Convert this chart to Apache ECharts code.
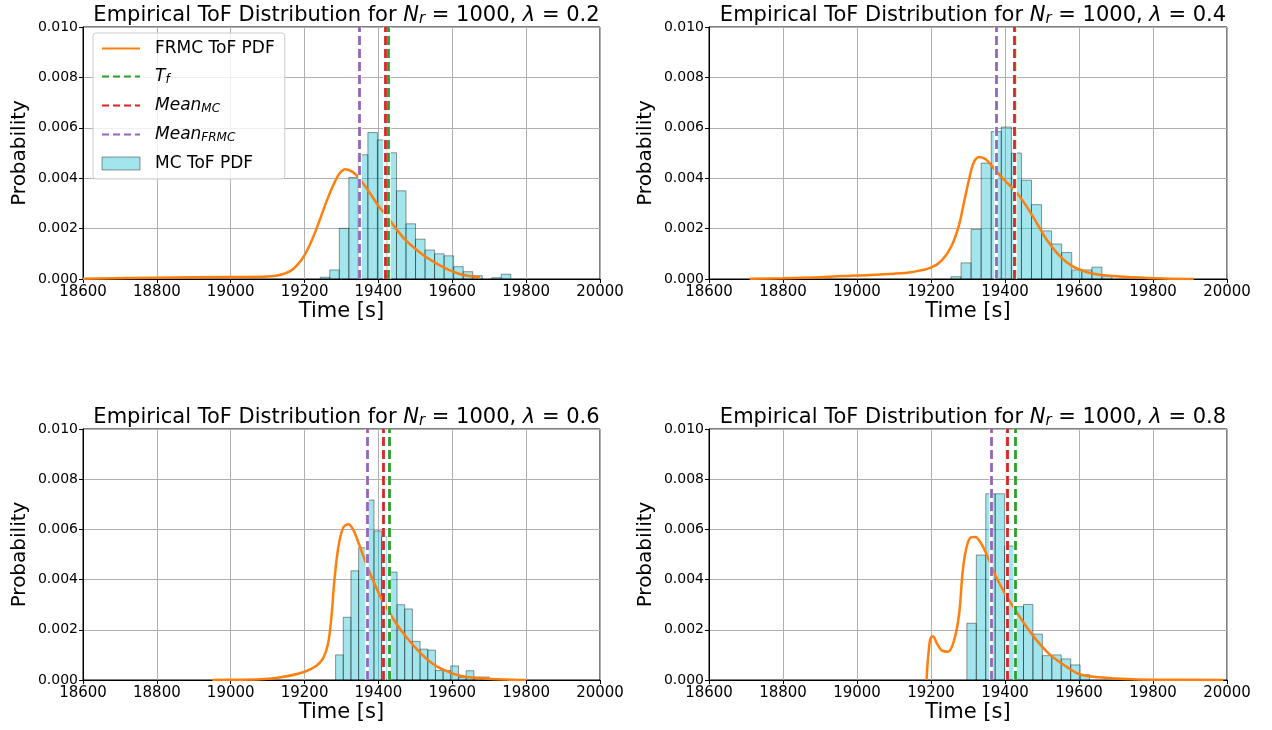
<!DOCTYPE html>
<html>
<head>
<meta charset="utf-8">
<script src="https://cdn.jsdelivr.net/npm/echarts@6/dist/echarts.min.js"></script>
<style>
  html, body { margin: 0; padding: 0; background: #fff; }
  #main { width: 1272px; height: 730px; }
</style>
</head>
<body>
<div id="main"></div>
<script>
// ---------------- data ----------------
var lambdas = ['0.2', '0.4', '0.6', '0.8'];
var xTicks = [18600, 18800, 19000, 19200, 19400, 19600, 19800, 20000];
var yTicks = [0, 0.002, 0.004, 0.006, 0.008, 0.010];

// histogram: first bin edge, bin width, bin heights
var binStart = [19242.5, 19254, 19284, 19297];
var binWidth = [25.8, 27.2, 20.8, 25.5];
var hist1 = [0.00007, 0.00036, 0.00201, 0.00403, 0.00493, 0.00581, 0.00552, 0.00501, 0.0035, 0.00219,
    0.00158, 0.00115, 0.00100, 0.00092, 0.00049, 0.00029, 0.00013, 0, 0.00005, 0.00019];
var hist2 = [0.00009, 0.00064, 0.00197, 0.0046, 0.00585, 0.00603, 0.005, 0.00392, 0.00295, 0.00191,
    0.00139, 0.00105, 0.00036, 0.00036, 0.00047, 0.00013];
var hist3 = [0.001, 0.0025, 0.00435, 0.00527, 0.00717, 0.00594, 0.0057, 0.0043, 0.003, 0.00283,
    0.00154, 0.00123, 0.00119, 0.00038, 0.00038, 0.00056, 0.0001, 0.00037, 0.00012, 0.00012];
var hist4 = [0.00226, 0.00498, 0.00742, 0.00742, 0.00534, 0.00292, 0.00301, 0.00183, 0.00097, 0.001,
    0.00084, 0.0006, 0.00021];

// FRMC pdf curves [time, prob]
var curve1 = [[18600, 0.00001], [18800, 0.00005], [19000, 0.00008], [19100, 0.0001], [19130, 0.00015],
    [19160, 0.0003], [19180, 0.00055], [19200, 0.00095], [19220, 0.00155], [19240, 0.0023], [19260, 0.0031],
    [19280, 0.0038], [19295, 0.0042], [19310, 0.00436], [19330, 0.00425], [19350, 0.00396], [19375, 0.00345],
    [19400, 0.0029], [19425, 0.00245], [19450, 0.00195], [19475, 0.00152], [19500, 0.0012], [19530, 0.00086],
    [19565, 0.00055], [19600, 0.0003], [19630, 0.00016], [19675, 0.00007]];
var curve2 = [[18710, 0.00001], [18800, 0.00003], [18900, 0.00007], [19000, 0.00014], [19100, 0.00021],
    [19150, 0.00028], [19200, 0.00045], [19230, 0.00075], [19255, 0.0013], [19275, 0.0021], [19290, 0.0031],
    [19302, 0.0039], [19315, 0.0046], [19330, 0.00484], [19348, 0.00475], [19375, 0.0043], [19400, 0.0039],
    [19430, 0.00345], [19456, 0.00293], [19484, 0.00227], [19511, 0.0016], [19547, 0.00093], [19583, 0.0005],
    [19620, 0.00028], [19660, 0.00016], [19745, 0.00007], [19830, 0.00002], [19910, 0]];
var curve3 = [[18950, 0], [19000, 0.00001], [19080, 0.00003], [19140, 0.00012], [19200, 0.00033],
    [19232, 0.00057], [19250, 0.00086], [19263, 0.0014], [19272, 0.0024], [19281, 0.004], [19291, 0.00525],
    [19304, 0.00605], [19318, 0.00621], [19331, 0.00601], [19349, 0.00535], [19367, 0.00462], [19386, 0.00395],
    [19404, 0.00336], [19422, 0.00289], [19449, 0.00223], [19476, 0.0017], [19512, 0.0011], [19548, 0.00064],
    [19585, 0.00035], [19621, 0.00017], [19675, 0.00007], [19766, 0.00001], [19800, 0]];
var curve4 = [[19188, 0], [19190, 0.0005], [19193, 0.00103], [19198, 0.00163], [19205, 0.00174],
    [19217, 0.00143], [19230, 0.00117], [19246, 0.00113], [19262, 0.00156], [19276, 0.00263], [19285, 0.00423],
    [19294, 0.00515], [19307, 0.00568], [19319, 0.0057], [19334, 0.00548], [19352, 0.00495], [19370, 0.00429],
    [19388, 0.00376], [19406, 0.00329], [19429, 0.00276], [19456, 0.00216], [19483, 0.00163], [19519, 0.00104],
    [19555, 0.00064], [19600, 0.00024], [19654, 0.00011], [19744, 0.00003], [19850, 0.00001], [19990, 0]];

var tf = [19427, 19427, 19428, 19427];
var meanMC = [19418, 19426, 19414, 19406];
var meanFRMC = [19349, 19376, 19369, 19362];

var hists = [hist1, hist2, hist3, hist4];
var curves = [curve1, curve2, curve3, curve4];

// ---------------- chart ----------------
var FONT = 'DejaVu Sans';
var C_ORANGE = '#ff7f0e', C_GREEN = '#2ca02c', C_RED = '#d62728', C_PURPLE = '#9467bd';
var C_FILL = 'rgba(23,190,207,0.4)', C_EDGE = 'rgba(0,0,0,0.4)';

var gridPos = [
    {left: 83, top: 27, width: 517, height: 252},
    {left: 709, top: 27, width: 518, height: 252},
    {left: 83, top: 429, width: 517, height: 251},
    {left: 709, top: 429, width: 518, height: 251}
];

var nameMap = {
    'FRMC ToF PDF': 'FRMC ToF PDF',
    'T_f': '{it|T}{sub|f}',
    'Mean_MC': '{it|Mean}{sub|MC}',
    'Mean_FRMC': '{it|Mean}{sub|FRMC}',
    'MC ToF PDF': 'MC ToF PDF'
};

var renderBar = function (params, api) {
    var p0 = api.coord([api.value(0), api.value(2)]);
    var p1 = api.coord([api.value(1), 0]);
    return {
        type: 'rect',
        shape: {x: p0[0], y: p0[1], width: p1[0] - p0[0], height: p1[1] - p0[1]},
        style: {fill: C_FILL, stroke: C_EDGE, lineWidth: 1}
    };
};

var vline = function (name, color, value, idx) {
    return {
        name: name,
        type: 'line',
        xAxisIndex: idx,
        yAxisIndex: idx,
        data: [],
        symbol: 'none',
        color: color,
        lineStyle: {type: [7, 4], width: 2.5, color: color},
        z: 3,
        markLine: {
            silent: true,
            symbol: 'none',
            animation: false,
            label: {show: false},
            data: [
                {xAxis: value, lineStyle: {color: '#ffffff', type: 'solid', width: 3.5}},
                {xAxis: value, lineStyle: {color: color, type: [9, 4], width: 2.8}}
            ]
        }
    };
};

var grids = [], xAxes = [], yAxes = [], titles = [], series = [];
for (var i = 0; i < 4; i++) {
    grids.push(Object.assign({show: true, borderColor: '#000', borderWidth: 1, containLabel: false}, gridPos[i]));
    titles.push({
        text: 'Empirical ToF Distribution for {it|N}{sub|r} = 1000, {it|λ} = ' + lambdas[i],
        left: gridPos[i].left + gridPos[i].width / 2,
        top: gridPos[i].top - 28,
        textAlign: 'center',
        textStyle: {
            fontFamily: FONT, fontSize: 21, fontWeight: 'normal', color: '#000',
            rich: {
                it: {fontFamily: FONT, fontSize: 21, fontStyle: 'italic', color: '#000'},
                sub: {fontFamily: FONT, fontSize: 15, fontStyle: 'italic', color: '#000', verticalAlign: 'bottom', padding: [8, 0, 0, 0]}
            }
        }
    });
    xAxes.push({
        type: 'value', gridIndex: i,
        min: xTicks[0], max: xTicks[xTicks.length - 1], interval: xTicks[1] - xTicks[0],
        name: 'Time [s]', nameLocation: 'middle', nameGap: 22,
        nameTextStyle: {fontFamily: FONT, fontSize: 21, color: '#000'},
        axisLine: {onZero: false, lineStyle: {color: '#000', width: 1}},
        axisTick: {show: true, length: 4, lineStyle: {color: '#000'}},
        axisLabel: {fontFamily: FONT, fontSize: 15, color: '#000', margin: 6,
            formatter: function (v) { return String(v); }},
        splitLine: {show: true, lineStyle: {color: '#b0b0b0', width: 1}}
    });
    yAxes.push({
        type: 'value', gridIndex: i,
        min: yTicks[0], max: yTicks[yTicks.length - 1], interval: yTicks[1] - yTicks[0],
        name: 'Probability', nameLocation: 'middle', nameGap: 53,
        nameTextStyle: {fontFamily: FONT, fontSize: 20, color: '#000'},
        axisLine: {onZero: false, lineStyle: {color: '#000', width: 1}},
        axisTick: {show: true, length: 4, lineStyle: {color: '#000'}},
        axisLabel: {fontFamily: FONT, fontSize: 14, color: '#000', margin: 5,
            formatter: function (v) { return v.toFixed(3); }},
        splitLine: {show: true, lineStyle: {color: '#b0b0b0', width: 1}}
    });

    var bins = [];
    hists[i].forEach(function (h, k) {
        if (h > 0) bins.push([binStart[i] + k * binWidth[i], binStart[i] + (k + 1) * binWidth[i], h]);
    });
    series.push({
        name: 'MC ToF PDF', type: 'custom', xAxisIndex: i, yAxisIndex: i,
        renderItem: renderBar, encode: {x: [0, 1], y: 2},
        itemStyle: {color: C_FILL, borderColor: C_EDGE, borderWidth: 1},
        data: bins, z: 2, animation: false
    });
    series.push(vline('T_f', C_GREEN, tf[i], i));
    series.push(vline('Mean_MC', C_RED, meanMC[i], i));
    series.push(vline('Mean_FRMC', C_PURPLE, meanFRMC[i], i));
    series.push({
        name: 'FRMC ToF PDF', type: 'line', xAxisIndex: i, yAxisIndex: i,
        data: curves[i], symbol: 'none', smooth: 0.35,
        color: C_ORANGE, lineStyle: {color: C_ORANGE, width: 2.5}, z: 4, animation: false
    });
}

var chart = echarts.init(document.getElementById('main'), null, {renderer: 'canvas'});
chart.setOption({
    backgroundColor: '#fff',
    animation: false,
    title: titles,
    grid: grids,
    xAxis: xAxes,
    yAxis: yAxes,
    legend: {
        left: 93, top: 33,
        orient: 'vertical',
        backgroundColor: 'rgba(255,255,255,0.8)',
        borderColor: '#cccccc', borderWidth: 1, borderRadius: 3,
        padding: [7, 10, 7, 8],
        itemWidth: 38, itemHeight: 13, itemGap: 11,
        // hide the marker symbol drawn on line-series legend icons
        itemStyle: {opacity: 0},
        data: [
            {name: 'FRMC ToF PDF'},
            {name: 'T_f'},
            {name: 'Mean_MC'},
            {name: 'Mean_FRMC'},
            {name: 'MC ToF PDF', icon: 'rect', itemStyle: {opacity: 1, color: C_FILL, borderColor: C_EDGE, borderWidth: 1}}
        ],
        formatter: function (name) { return nameMap[name]; },
        textStyle: {
            fontFamily: FONT, fontSize: 17, color: '#000', padding: [0, 0, 0, 10],
            rich: {
                it: {fontFamily: FONT, fontSize: 17, fontStyle: 'italic', color: '#000'},
                sub: {fontFamily: FONT, fontSize: 12, fontStyle: 'italic', color: '#000', verticalAlign: 'bottom', padding: [7, 0, 0, 0]}
            }
        }
    },
    series: series
});
</script>
</body>
</html>
